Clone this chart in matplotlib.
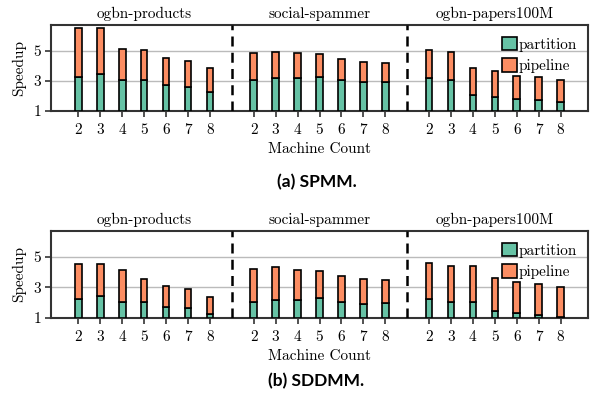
import matplotlib
matplotlib.use("Agg")
import matplotlib.pyplot as plt
from matplotlib.patches import Patch
import numpy as np

plt.rcParams['font.family'] = ['cmr10', 'DejaVu Serif']
plt.rcParams['axes.formatter.use_mathtext'] = True

machines = ["2", "3", "4", "5", "6", "7", "8"]
datasets = ["ogbn-products", "social-spammer", "ogbn-papers100M"]

# (a) SPMM: total speedup and partition-only speedup
spmm_total = [
    [6.49, 6.51, 5.09, 5.02, 4.54, 4.34, 3.84],
    [4.83, 4.91, 4.87, 4.78, 4.45, 4.26, 4.17],
    [5.04, 4.91, 3.84, 3.62, 3.34, 3.23, 3.03],
]
spmm_partition = [
    [3.25, 3.43, 3.05, 3.05, 2.73, 2.62, 2.27],
    [3.05, 3.16, 3.19, 3.27, 3.05, 2.92, 2.92],
    [3.19, 3.05, 2.03, 1.94, 1.81, 1.70, 1.57],
]

# (b) SDDMM
sddmm_total = [
    [4.52, 4.54, 4.12, 3.55, 3.07, 2.87, 2.36],
    [4.23, 4.34, 4.16, 4.10, 3.77, 3.57, 3.48],
    [4.58, 4.43, 4.38, 3.64, 3.37, 3.24, 3.04],
]
sddmm_partition = [
    [2.25, 2.43, 2.03, 2.03, 1.73, 1.66, 1.29],
    [2.03, 2.19, 2.21, 2.30, 2.05, 1.95, 1.97],
    [2.23, 2.05, 2.05, 1.48, 1.31, 1.22, 1.09],
]

GREEN = "#66c2a5"
ORANGE = "#fc8d62"
BASE = 1.0
FS = 11

W, H = 592, 394
fig = plt.figure(figsize=(W / 100, H / 100), dpi=100)


def draw_panel(ax_rect, total, partition, caption, cap_y):
    ax = fig.add_axes(ax_rect)
    positions = []
    for g, name in enumerate(datasets):
        x = np.arange(len(machines)) + g * (len(machines) + 1)
        positions.extend(x)
        part = np.array(partition[g])
        tot = np.array(total[g])
        ax.bar(x, part - BASE, bottom=BASE, width=0.3, color=GREEN,
               edgecolor="black", linewidth=1.2, zorder=3)
        ax.bar(x, tot - part, bottom=part, width=0.3, color=ORANGE,
               edgecolor="black", linewidth=1.2, zorder=3)
        ax.text(x.mean(), 6.95, name, ha="center", va="bottom", fontsize=FS)
        if g > 0:
            ax.axvline(x[0] - 1, color="black", linestyle=(0, (4, 2.5)),
                       linewidth=1.8, zorder=4)
    ax.set_xticks(positions)
    ax.set_xticklabels(machines * len(datasets), fontsize=FS)
    ax.set_xlim(-1.25, 23.25)
    ax.set_ylim(1, 6.7)
    ax.set_yticks([1, 3, 5])
    ax.set_yticklabels(["1", "3", "5"], fontsize=FS)
    ax.set_ylabel("Speedup", fontsize=FS, labelpad=5)
    ax.set_xlabel("Machine Count", fontsize=FS, labelpad=4)
    ax.yaxis.grid(True, color="#bbbbbb", linewidth=1, zorder=0)
    ax.set_axisbelow(True)
    for s in ax.spines.values():
        s.set_color("#333333")
        s.set_linewidth(1.5)
    ax.tick_params(axis="x", length=4, width=1.2, color="#333333", pad=5)
    ax.tick_params(axis="y", length=4, width=1.2, color="#333333", pad=3)
    handles = [Patch(facecolor=GREEN, edgecolor="black", linewidth=1.2, label="partition"),
               Patch(facecolor=ORANGE, edgecolor="black", linewidth=1.2, label="pipeline")]
    ax.legend(handles=handles, loc="upper right", frameon=False, fontsize=FS,
              handlelength=1.0, handleheight=1.0, handletextpad=0.1,
              labelspacing=0.4, borderaxespad=0.2, bbox_to_anchor=(0.997, 0.97))
    fig.text(ax_rect[0] + ax_rect[2] / 2 - 3 / W, cap_y, caption, ha="center",
             va="center", fontsize=12.5, fontweight="bold", family="Lato")
    return ax


draw_panel([51 / W, 1 - 111 / H, 537 / W, 86 / H], spmm_total, spmm_partition,
           "(a) SPMM.", 1 - 182 / H)
draw_panel([51 / W, 1 - 318 / H, 537 / W, 87 / H], sddmm_total, sddmm_partition,
           "(b) SDDMM.", 1 - 381 / H)

fig.savefig("out.png", dpi=100)
